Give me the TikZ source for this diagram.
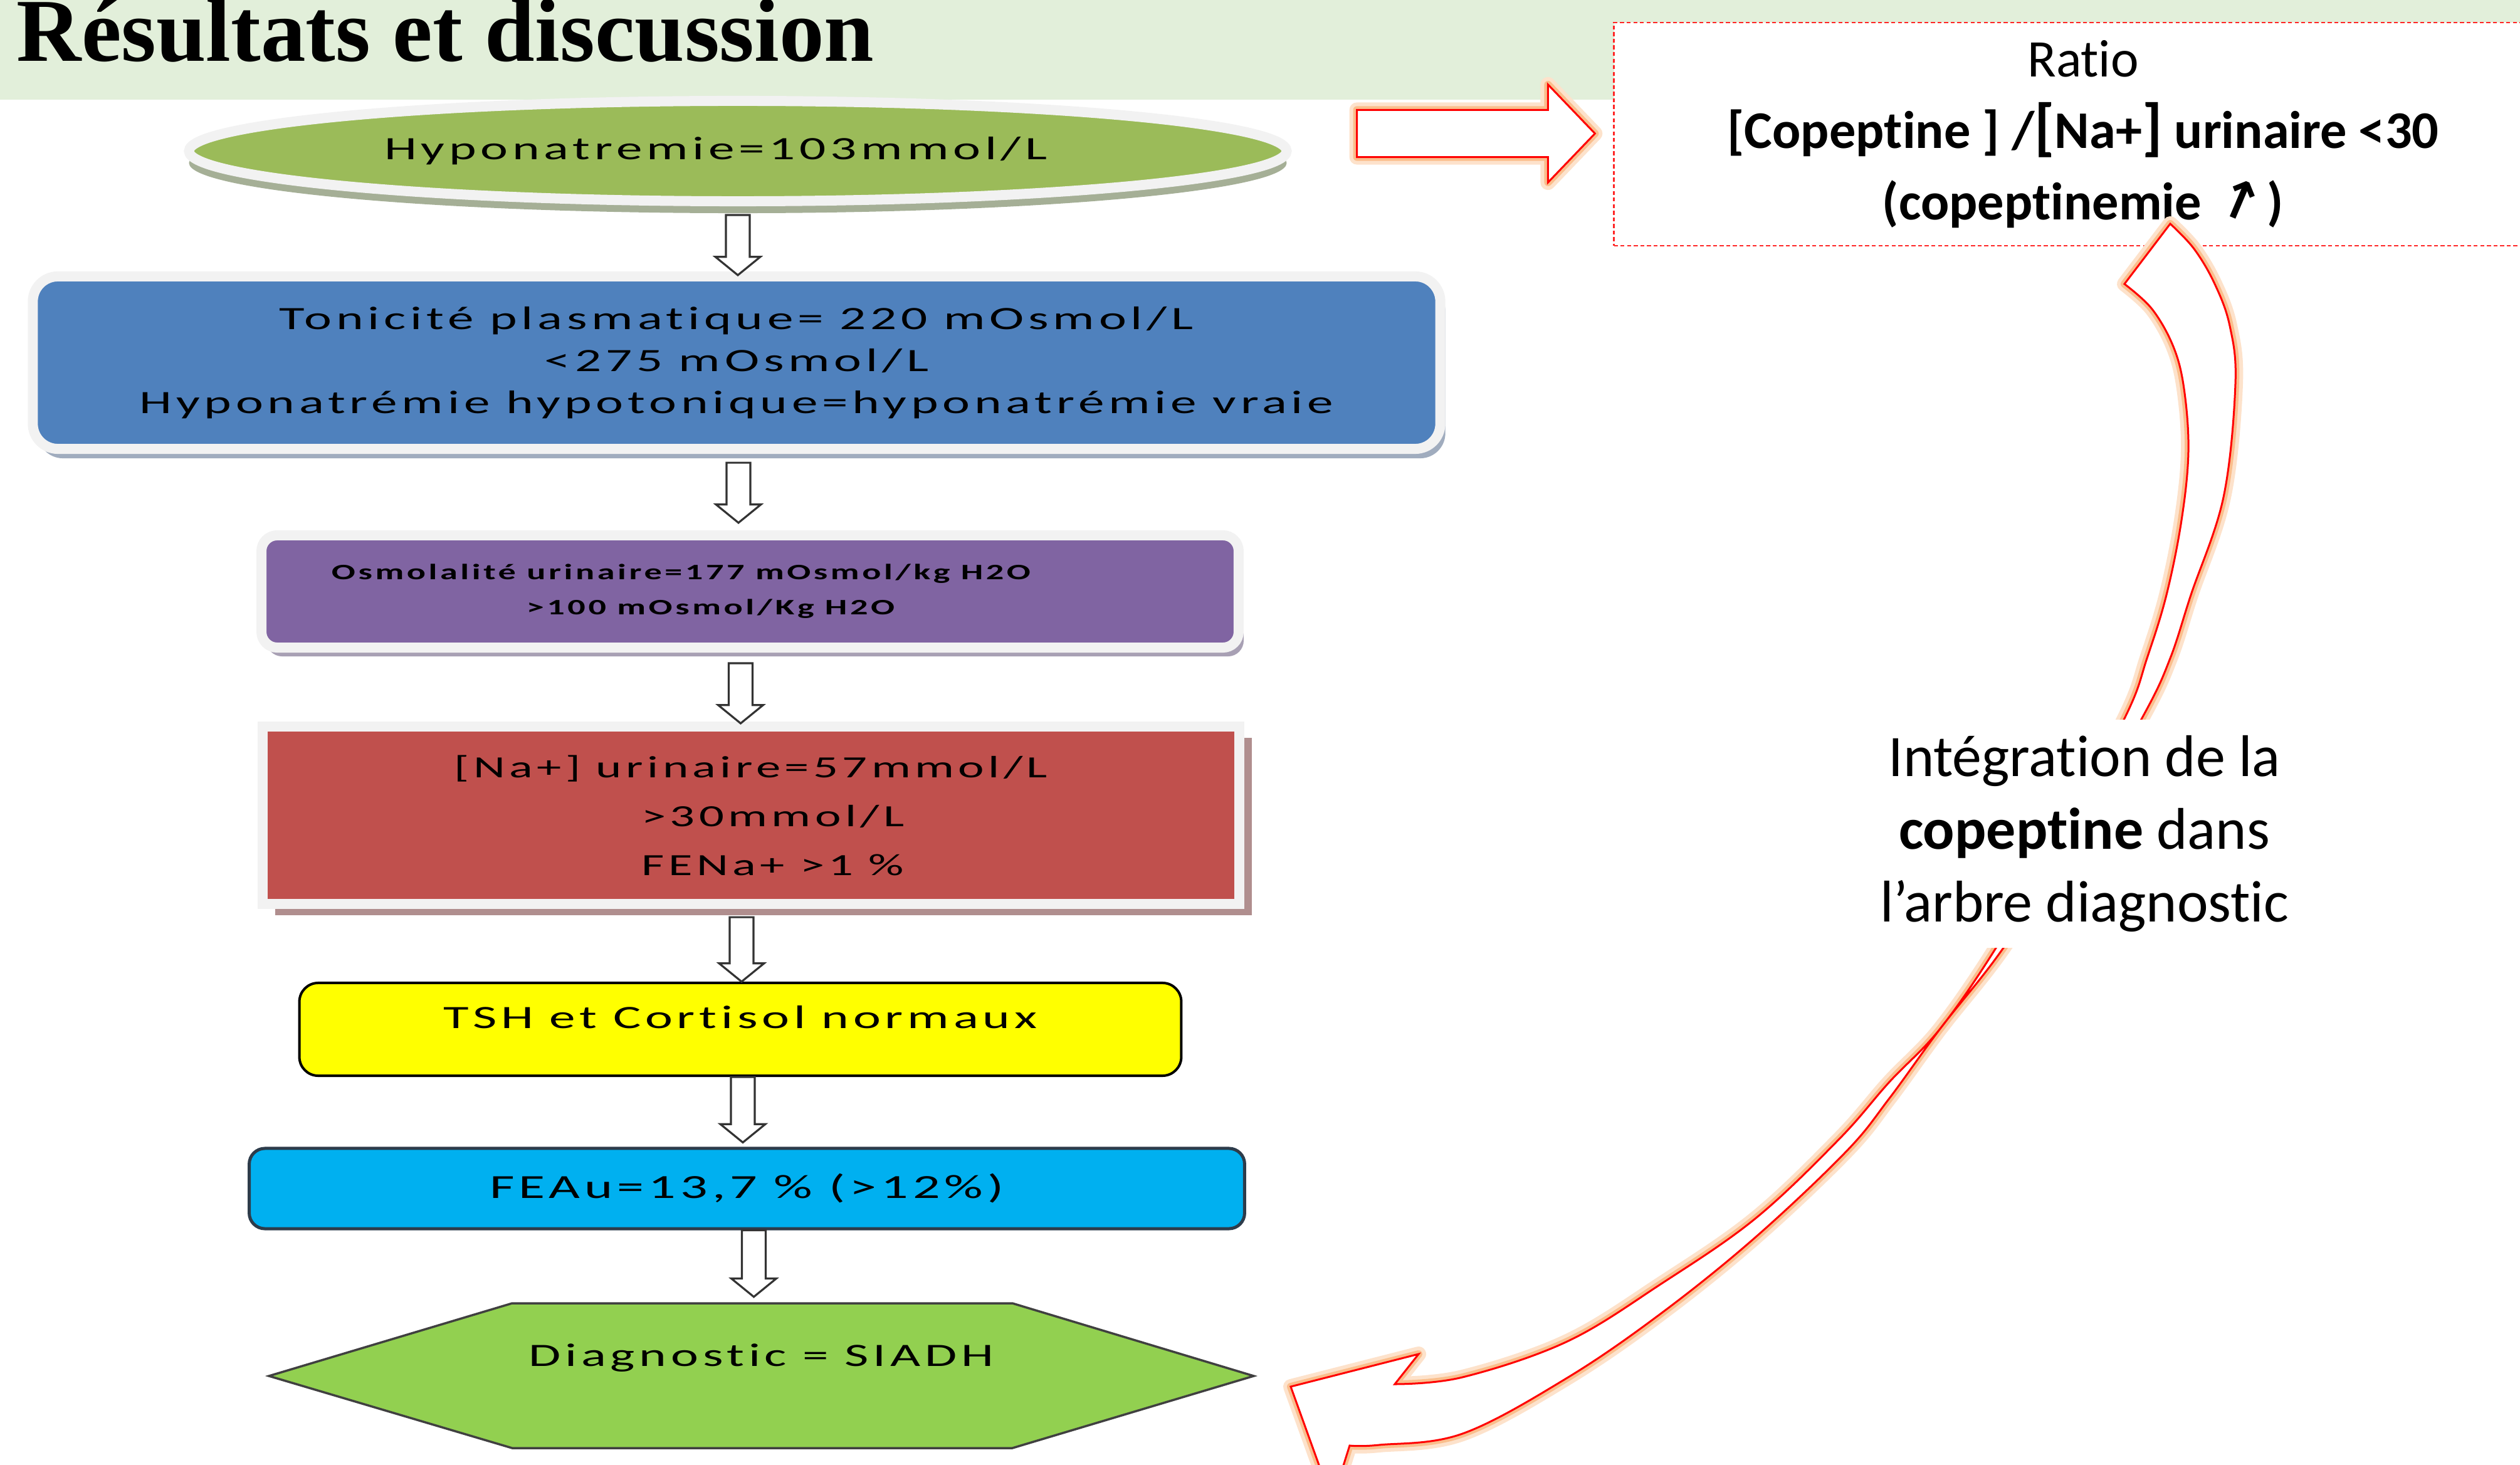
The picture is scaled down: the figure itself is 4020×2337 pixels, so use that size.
\documentclass[tikz,border=0pt]{standalone}
\usepackage{fontspec}
\setmainfont[Ligatures=CommonOff]{Carlito}
\newfontfamily\titlefont{Liberation Serif}
\newfontfamily\boxfont[FakeStretch=1.6,LetterSpace=13,Ligatures=CommonOff]{Carlito}
\newfontfamily\symfont{DejaVu Sans}
\usetikzlibrary{shapes.geometric, shadows, calc, positioning}

\definecolor{bandgreen}{RGB}{226,239,218}
\definecolor{hypogreen}{RGB}{155,187,89}
\definecolor{rimgray}{RGB}{242,242,242}
\definecolor{hyposhadow}{RGB}{165,175,150}
\definecolor{toniblue}{RGB}{79,129,189}
\definecolor{tonishadow}{RGB}{160,172,190}
\definecolor{osmopurple}{RGB}{128,100,162}
\definecolor{osmoshadow}{RGB}{168,160,180}
\definecolor{nared}{RGB}{192,80,77}
\definecolor{nashadow}{RGB}{176,142,142}
\definecolor{tshyellow}{RGB}{255,255,0}
\definecolor{feaucyan}{RGB}{0,176,240}
\definecolor{feauborder}{RGB}{45,60,75}
\definecolor{diaggreen}{RGB}{146,208,80}
\definecolor{glowor}{RGB}{250,190,140}

\tikzset{
  boxtxt/.style={font=\boxfont\fontsize{14.8}{19}\selectfont, align=center, text=black},
  rimbox/.style={draw=rimgray, line width=0.16cm, inner sep=0pt, boxtxt},
  flowarrow/.style={draw=black!80, fill=white, line width=0.9pt, line join=miter},
  glowarrow/.style={draw=red, fill=white, line width=0.03cm, line join=miter,
    preaction={draw=glowor!45, line width=0.24cm, line join=round},
    preaction={draw=glowor, line width=0.12cm, line join=round}},
  notetxt/.style={font=\fontsize{26.7}{33}\selectfont, align=center, fill=white, inner sep=0.25cm}
}

% double-line down arrow between two nodes
\newcommand{\flowdown}[2]{%
  \draw[flowarrow] let \p1=(#1), \p2=(#2) in
    (\x1-5.4pt,\y1) -- (\x1-5.4pt,\y2+8.3pt) -- (\x1-10.2pt,\y2+8.3pt) -- (\x1,\y2)
    -- (\x1+10.2pt,\y2+8.3pt) -- (\x1+5.4pt,\y2+8.3pt) -- (\x1+5.4pt,\y1) -- cycle;}

% hollow block arrow to the right
\newcommand{\blockright}[2]{%
  \draw[glowarrow] let \p1=(#1), \p2=(#2) in
    (\x1,\y1+10.7pt) -- (\x2-21.3pt,\y1+10.7pt) -- (\x2-21.3pt,\y1+22.2pt) -- (\x2,\y2)
    -- (\x2-21.3pt,\y1-22.2pt) -- (\x2-21.3pt,\y1-10.7pt) -- (\x1,\y1-10.7pt) -- cycle;}

\begin{document}
\begin{tikzpicture}[x=0.01cm, y=-0.01cm]
  \useasboundingbox (0,0) rectangle (4020,2337);
  \clip (0,0) rectangle (4020,2337);

  % title band
  \fill[bandgreen] (0,0) rectangle (4020,159);
  \node[anchor=base west, inner sep=0pt, font=\titlefont\bfseries\fontsize{40.7}{40.7}\selectfont] (title) at (26,98) {Résultats et discussion};

  % ratio box
  \node[draw=red!85, dash pattern=on 1.8pt off 1.2pt, line width=0.7pt, fill=white,
        minimum width=14.96cm, minimum height=3.56cm, align=center,
        font=\fontsize{24}{32.5}\selectfont] (ratio) at (3323,214)
    {Ratio\\
     \textbf{[Copeptine ] /{\fontsize{28.5}{28}\selectfont[}Na+{\fontsize{28.5}{28}\selectfont]} urinaire <30}\\
     \textbf{(copeptinemie {\symfont\rotatebox[origin=c]{22}{↗}})}};

  % curved arrow
  \draw[glowarrow]
    plot[smooth, tension=0.6] coordinates {(3462,357) (3500,397) (3533,453) (3557,520) (3566,612) (3547,793) (3495,949) (3462,1050) (3420,1140) (3310,1330) (3198,1509) (3095,1641) (3014,1752) (2945,1837) (2800,1974) (2650,2095) (2500,2198) (2333,2287) (2200,2305) (2153,2306)}
    -- (2125,2395) -- (2059,2212) -- (2263,2160) -- (2225,2208)
    -- plot[smooth, tension=0.6] coordinates {(2225,2208) (2333,2197) (2500,2140) (2650,2048) (2800,1944) (2934,1817) (3014,1726) (3095,1641) (3186,1509) (3290,1330) (3392,1140) (3425,1050) (3456,949) (3480,830) (3491,720) (3484,620) (3467,553) (3433,493) (3389,453)}
    -- cycle;

  \node[notetxt] (integ) at (3325,1330) {Intégration de la\\\textbf{copeptine} dans\\l’arbre diagnostic};

  % flow chart
  \node[ellipse, rimbox, fill=hypogreen, minimum width=17.5cm, minimum height=1.6cm,
        drop shadow={shadow xshift=0cm, shadow yshift=-0.19cm, fill=hyposhadow, opacity=1}] (hypo) at (1177,241) {Hyponatremie=103mmol/L\hspace*{0.7cm}};

  \node[rimbox, rounded corners=0.4cm, fill=toniblue, minimum width=22.44cm, minimum height=2.75cm,
        drop shadow={shadow xshift=0.08cm, shadow yshift=-0.15cm, fill=tonishadow, opacity=1}] (toni) at (1175,578.5)
    {Tonicité plasmatique= 220 mOsmol/L\\<275 mOsmol/L\\Hyponatrémie hypotonique=hyponatrémie vraie};

  \node[rimbox, rounded corners=0.25cm, fill=osmopurple, minimum width=15.58cm, minimum height=1.79cm,
        font=\boxfont\bfseries\fontsize{10}{16}\selectfont,
        drop shadow={shadow xshift=0.08cm, shadow yshift=-0.14cm, fill=osmoshadow, opacity=1}] (osmo) at (1196.5,943.5)
    {Osmolalité urinaire=177 mOsmol/kg H2O\hspace*{2.2cm}\\>100 mOsmol/Kg H2O\hspace*{1.26cm}};

  \node[rimbox, fill=nared, minimum width=15.58cm, minimum height=2.83cm,
        font=\boxfont\fontsize{14}{22.2}\selectfont,
        drop shadow={shadow xshift=0.2cm, shadow yshift=-0.18cm, fill=nashadow, opacity=1}] (na) at (1198,1300.5)
    {[Na+] urinaire=57mmol/L\\\hspace*{0.7cm}>30mmol/L\\\hspace*{0.7cm}FENa+ >1 \%};

  \node[boxtxt, draw=black, line width=0.04cm, rounded corners=0.3cm, fill=tshyellow,
        minimum width=14.06cm, minimum height=1.48cm, text depth=0.4cm] (tsh) at (1181,1642) {TSH et Cortisol normaux};

  \node[boxtxt, draw=feauborder, line width=0.05cm, rounded corners=0.25cm, fill=feaucyan,
        font=\boxfont\fontsize{15.3}{19}\selectfont,
        minimum width=15.87cm, minimum height=1.28cm] (feau) at (1191.5,1896) {FEAu=13,7 \% (>12\%)};

  \filldraw[fill=diaggreen, draw=black!75, line width=0.035cm]
    (429,2195) -- (817,2079) -- (1615,2079) -- (2000,2195) -- (1615,2310) -- (817,2310) -- cycle;
  \node[boxtxt, minimum width=15.71cm, minimum height=2.31cm, text depth=0.66cm] (diag) at (1214.5,2194.5) {Diagnostic = SIADH};

  % arrows
  \flowdown{[yshift=-0.14cm]hypo.south}{[yshift=-0.06cm]toni.north}
  \flowdown{[yshift=-0.14cm, xshift=0.03cm]toni.south}{[yshift=0.12cm]osmo.north}
  \flowdown{[yshift=-0.17cm, xshift=-0.15cm]osmo.south}{[yshift=-0.03cm]na.north}
  \flowdown{[yshift=-0.13cm, xshift=-0.15cm]na.south}{tsh.north}
  \flowdown{[xshift=0.04cm]tsh.south}{[yshift=0.07cm]feau.north}
  \flowdown{[xshift=0.11cm]feau.south}{[yshift=0.095cm]diag.north}

  \blockright{[xshift=1.04cm, yshift=0.28cm]hypo.east}{[xshift=-0.29cm, yshift=0.01cm]ratio.west}
\end{tikzpicture}
\end{document}
